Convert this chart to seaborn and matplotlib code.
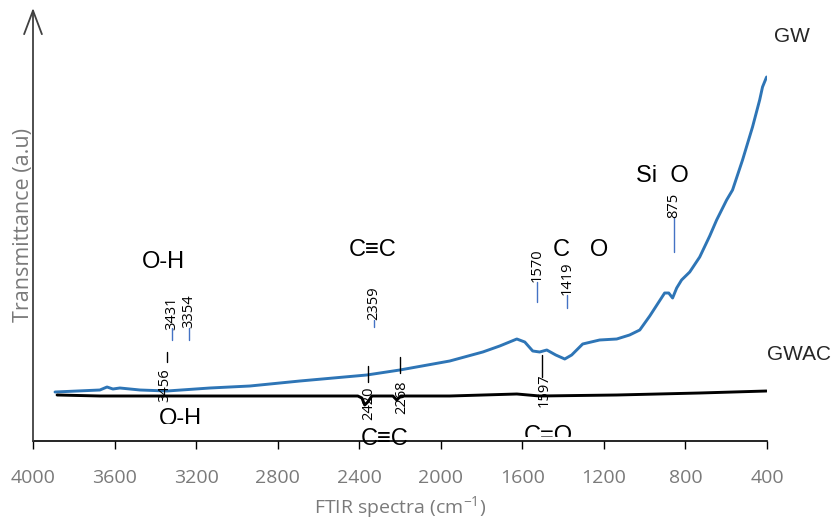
"""
FTIR spectra of GW and GWAC, recreated with seaborn.
"""
import pandas as pd
import matplotlib
matplotlib.use("Agg")
import matplotlib.pyplot as plt
from matplotlib.patches import Rectangle
import seaborn as sns

# ---- data (wavenumber cm-1, transmittance a.u.) ----
gw_wn = [3892, 3672, 3637, 3608, 3574, 3475, 3343, 3132, 2936, 2691, 2363, 2201,
         1956, 1794, 1711, 1627, 1588, 1549, 1515, 1480, 1436, 1392, 1358, 1304,
         1221, 1137, 1074, 1024, 975, 902, 882, 863, 843, 819, 779, 730, 681, 647,
         598, 569, 520, 471, 436, 422, 402]
gw_t = [49, 51, 54, 52, 53, 51, 50, 53, 55, 60, 66, 71,
        80, 89, 95, 102, 99, 90, 89, 91, 86, 82, 86, 97,
        101, 102, 106, 111, 125, 148, 148, 143, 153, 161, 169, 184, 205, 221,
        241, 251, 281, 314, 341, 354, 364]

gwac_wn = [3882, 3672, 3343, 2936, 2407, 2387, 2373, 2358, 2338, 2235, 2216, 2196,
           1956, 1627, 1515, 1137, 730, 402]
gwac_t = [46, 45, 45, 45, 45, 43, 36, 39, 45, 45, 41, 45,
          45, 47, 45, 46, 48, 50]

# peak labels on the GW curve
gw_peaks = ["3431", "3354", "2359", "1570", "1419", "875"]
gw_peak_x = [3319, 3235, 2328, 1529, 1382, 858]
gw_peak_txt_y = [111, 113, 121, 159, 146, 223]
gw_peak_line = [(101, 113), (101, 113), (114, 121), (139, 159), (133, 146), (189, 223)]

# peak labels on the GWAC curve
gwac_peaks = ["3456", "2420", "2268", "1597"]
gwac_peak_x = [3353, 2353, 2191, 1495]
gwac_line_x = [3343, 2358, 2201, 1505]
gwac_peak_txt_y = [73, 54, 61, 68]
gwac_peak_line = [(79, 89), (59, 75), (68, 84), (64, 86)]

xticks = [4000, 3600, 3200, 2800, 2400, 2000, 1600, 1200, 800, 400]

df = pd.concat([
    pd.DataFrame({"wn": gw_wn, "T": gw_t, "sample": "GW"}),
    pd.DataFrame({"wn": gwac_wn, "T": gwac_t, "sample": "GWAC"}),
])

sns.set_theme(style="white")
plt.rcParams["font.family"] = ["Liberation Sans", "DejaVu Sans"]
plt.rcParams["mathtext.default"] = "regular"

GRAY = "#7a7a7a"
BLUE = "#2E75B6"
LABEL_FONT = ["Open Sans", "DejaVu Sans"]

fig = plt.figure(figsize=(8.35, 5.25), dpi=100)
ax = fig.add_axes([33 / 835, 84 / 525, 734 / 835, 431 / 525])

sns.lineplot(data=df, x="wn", y="T", hue="sample", palette={"GW": BLUE, "GWAC": "black"},
             estimator=None, sort=False, legend=False, linewidth=2.1, ax=ax)

ax.set_xlim(4000, 400)
ax.set_ylim(0, 431)
ax.set_xticks(xticks)
ax.set_yticks([])
for s in ["top", "right", "left"]:
    ax.spines[s].set_visible(False)
ax.spines["bottom"].set_color("black")
ax.spines["bottom"].set_linewidth(1.2)
ax.tick_params(axis="x", direction="out", length=6, width=1, color="black",
               labelcolor=GRAY, labelsize=14, pad=14.5, bottom=True)
for lab in ax.get_xticklabels():
    lab.set_family(LABEL_FONT)

ax.set_xlabel("FTIR spectra (cm$^{-1}$)", color=GRAY, fontsize=14, labelpad=5,
              family=LABEL_FONT)
ax.set_ylabel("Transmittance (a.u)", color=GRAY, fontsize=15.5, labelpad=-1,
              family=LABEL_FONT)

# y axis drawn as an arrow
ax.annotate("", xy=(4000, 433), xytext=(4000, 0), annotation_clip=False,
            arrowprops=dict(arrowstyle="->,head_length=0.85,head_width=0.32",
                            mutation_scale=20, color="#404040", lw=1.3,
                            shrinkA=0, shrinkB=0))

# GW peak labels
for lab, x, ty, (y0, y1) in zip(gw_peaks, gw_peak_x, gw_peak_txt_y, gw_peak_line):
    ax.text(x, ty, lab, rotation=90, ha="center", va="bottom", fontsize=10.5,
            family=LABEL_FONT, color="black")
    ax.plot([x, x], [y0, y1], color="#4472C4", lw=1)

# GWAC peak labels
for lab, x, lx, ty, (y0, y1) in zip(gwac_peaks, gwac_peak_x, gwac_line_x,
                                     gwac_peak_txt_y, gwac_peak_line):
    ax.text(x, ty, lab, rotation=90, ha="center", va="top", fontsize=10.5,
            family=LABEL_FONT, color="black")
    ax.plot([lx, lx], [y0, y1], color="black", lw=1)

# functional group labels
big = dict(fontsize=17, ha="center", va="center", color="black")
ax.text(3358, 179, "O-H", **big)
ax.text(2333, 191, "C≡C", **big)
ax.text(1314, 191, "C   O", **big)
ax.text(912, 265, "Si  O", **big)

t = ax.text(3279, 22, "O-H", clip_on=True, **big)
t.set_clip_path(Rectangle((4000, 17), -3600, 500, transform=ax.transData))
ax.text(2274, 2, "C≡C", clip_on=False, **big)
t = ax.text(1475, 5, "C=O", clip_on=True, **big)
t.set_clip_path(Rectangle((4000, 4), -3600, 500, transform=ax.transData))

ax.text(279, 405, "GW", fontsize=15, ha="center", va="center", clip_on=False)
ax.text(245, 86, "GWAC", fontsize=15, ha="center", va="center", clip_on=False)

fig.savefig("out.png", dpi=100)
